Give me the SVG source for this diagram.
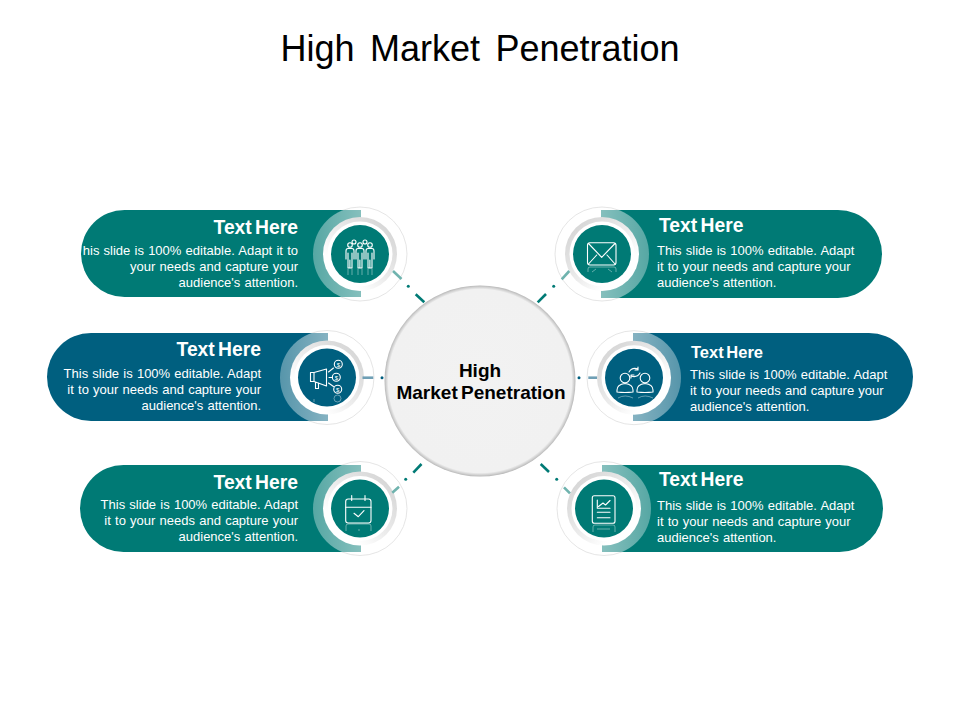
<svg xmlns="http://www.w3.org/2000/svg" width="960" height="720" viewBox="0 0 960 720">
<style>
text{font-family:"Liberation Sans",Arial,sans-serif}
.title{font-size:36px;fill:#000;text-anchor:middle;word-spacing:5.500px}
.ctr{font-size:19px;font-weight:700;fill:#000;text-anchor:middle;word-spacing:-2px}
.hd{font-size:19.300px;font-weight:700;fill:#fff;word-spacing:-2px}
.bd{font-size:13px;fill:#fff;word-spacing:.6px}
.e{text-anchor:end}
.teal{fill:#007a75}
.blue{fill:#005f7f}
.halo{fill:#fff;stroke:#dedede;stroke-width:.8}
.band-l{fill:url(#bl)}
.band-r{fill:url(#br)}
.wh{fill:#fff}
.ic{fill:none;stroke:#fff;stroke-width:1.100;stroke-linecap:round;stroke-linejoin:round}
.rf{fill:none;stroke:#fff;stroke-width:1;opacity:.4}
.d{stroke-width:2.600;stroke-linecap:butt;fill:none}
.p{stroke-width:3;stroke-linecap:round;fill:none}
.dt{stroke:#007a75}.lt{stroke:#6fb3ae}
.db{stroke:#005f7f}.lb{stroke:#6f9fb5}
</style>
<defs>
<radialGradient id="cg" cx=".5" cy=".5" r=".5">
<stop offset="0" stop-color="#f2f2f2"/><stop offset=".96" stop-color="#f1f1f1"/><stop offset=".985" stop-color="#cfcfcf"/><stop offset="1" stop-color="#b8b8b8"/>
</radialGradient>
<linearGradient id="gl" x1="1" y1="0" x2="0" y2="1"><stop offset="0" stop-color="#cfcfcf"/><stop offset=".5" stop-color="#ececec"/><stop offset=".75" stop-color="#fff"/></linearGradient>
<linearGradient id="gr" x1="0" y1="0" x2="1" y2="1"><stop offset="0" stop-color="#cfcfcf"/><stop offset=".5" stop-color="#ececec"/><stop offset=".75" stop-color="#fff"/></linearGradient>
<linearGradient id="bl" x1="0" y1="0" x2="1" y2="0"><stop offset="0" stop-color="#fff" stop-opacity=".34"/><stop offset=".5" stop-color="#fff" stop-opacity=".52"/></linearGradient>
<linearGradient id="br" x1="1" y1="0" x2="0" y2="0"><stop offset="0" stop-color="#fff" stop-opacity=".34"/><stop offset=".5" stop-color="#fff" stop-opacity=".52"/></linearGradient>
<clipPath id="c1"><rect x="300" y="210" width="61" height="87"/></clipPath>
<clipPath id="c2"><rect x="270" y="333" width="58" height="88"/></clipPath>
<clipPath id="c3"><rect x="300" y="465" width="61" height="87"/></clipPath>
<clipPath id="c4"><rect x="601" y="210" width="60" height="88"/></clipPath>
<clipPath id="c5"><rect x="633" y="333" width="60" height="88"/></clipPath>
<clipPath id="c6"><rect x="602" y="465" width="60" height="87"/></clipPath>
</defs>
<text class="title" x="480" y="61">High Market Penetration</text>

<g id="center">
<circle cx="480" cy="381" r="95.500" fill="url(#cg)"/>
<text class="ctr" x="480" y="377">High</text>
<text class="ctr" x="481" y="399">Market Penetration</text>
</g>

<g id="node-top-left">
<circle class="halo" cx="360" cy="254" r="47"/>
<path class="teal" d="M361 210H124.500a43.500 43.500 0 0 0 0 87H361Z"/>
<circle class="band-l" cx="360" cy="254" r="47" clip-path="url(#c1)"/>
<circle cx="360" cy="254" r="37" fill="url(#gl)"/><circle class="wh" cx="360" cy="254" r="32.500"/><circle class="teal" cx="360" cy="254" r="29"/>
<g class="ic">
<circle cx="354" cy="242" r="2"/><circle cx="365" cy="242" r="2"/>
<circle cx="350" cy="245" r="2.300"/><circle cx="360" cy="245" r="2.300"/><circle cx="370" cy="245" r="2.300"/>
<path d="M346 259v-8q0-2.500 2-2.500h4q2 0 2 2.500v8M348 253v15h4v-15M349.900 268v-8"/>
<path d="M356 259v-8q0-2.500 2-2.500h4q2 0 2 2.500v8M358 253v15h4v-15M359.900 268v-8"/>
<path d="M366 259v-8q0-2.500 2-2.500h4q2 0 2 2.500v8M368 253v15h4v-15M369.900 268v-8"/>
</g>
<path class="rf" d="M348 269v6M352 269v6M358 269v6M362 269v6M368 269v6M372 269v6"/>
<text class="hd e" x="298" y="234">Text Here</text>
<text class="bd e" x="298" y="255">his slide is 100% editable. Adapt it to</text>
<text class="bd e" x="298" y="271">your needs and capture your</text>
<text class="bd e" x="298" y="287">audience's attention.</text>
</g>

<g id="node-middle-left">
<circle class="halo" cx="327" cy="377.500" r="47"/>
<path class="blue" d="M328 333H91a44 44 0 0 0 0 88H328Z"/>
<circle class="band-l" cx="327" cy="377.500" r="47" clip-path="url(#c2)"/>
<circle cx="327" cy="377.500" r="37" fill="url(#gl)"/><circle class="wh" cx="327" cy="377.500" r="32.500"/><circle class="blue" cx="327" cy="377.500" r="29"/>
<g class="ic">
<path d="M314 372.500h-3.500v9h3.500zM314 372.500L326.500 369v17L314 381.500M315.500 382v6.500h3V383"/>
<path d="M328.500 372l5-4M329 377.500h3.500M328.500 383l5 3.500"/>
<circle cx="338.300" cy="364.300" r="4"/><circle cx="336.300" cy="377.300" r="4"/><circle cx="337.700" cy="389.300" r="4"/>
</g>
<text x="338.300" y="366.500" text-anchor="middle" style="font-size:6px;fill:#fff">$</text>
<text x="336.300" y="379.500" text-anchor="middle" style="font-size:6px;fill:#fff">$</text>
<text x="337.700" y="391.500" text-anchor="middle" style="font-size:6px;fill:#fff">$</text>
<circle class="rf" cx="337.500" cy="398.500" r="3.500"/><path class="rf" d="M314 399v3"/>
<text class="hd e" x="261" y="356">Text Here</text>
<text class="bd e" x="261" y="378">This slide is 100% editable. Adapt</text>
<text class="bd e" x="261" y="394">it to your needs and capture your</text>
<text class="bd e" x="261" y="410">audience's attention.</text>
</g>

<g id="node-bottom-left">
<circle class="halo" cx="360" cy="508.500" r="47"/>
<path class="teal" d="M361 465H123.500a43.500 43.500 0 0 0 0 87H361Z"/>
<circle class="band-l" cx="360" cy="508.500" r="47" clip-path="url(#c3)"/>
<circle cx="360" cy="508.500" r="37" fill="url(#gl)"/><circle class="wh" cx="360" cy="508.500" r="32.500"/><circle class="teal" cx="360" cy="508.500" r="29"/>
<g class="ic">
<rect x="345.700" y="499" width="25.300" height="24" rx="2.500"/>
<path d="M345.700 507.300H371M351.700 495.500v5M365 495.500v5M354 513.300l4.300 3.400 5.700-6"/>
</g>
<path class="rf" d="M346 531v-5q0-2 2-2h21q2 0 2 2v5M358 530h2"/>
<text class="hd e" x="298" y="489">Text Here</text>
<text class="bd e" x="298" y="509">This slide is 100% editable. Adapt</text>
<text class="bd e" x="298" y="525">it to your needs and capture your</text>
<text class="bd e" x="298" y="541">audience's attention.</text>
</g>

<g id="node-top-right">
<circle class="halo" cx="602" cy="254" r="47"/>
<path class="teal" d="M601 210H838a44 44 0 0 1 0 88H601Z"/>
<circle class="band-r" cx="602" cy="254" r="47" clip-path="url(#c4)"/>
<circle cx="602" cy="254" r="37" fill="url(#gr)"/><circle class="wh" cx="602" cy="254" r="32.500"/><circle class="teal" cx="602" cy="254" r="29"/>
<g class="ic">
<rect x="587.500" y="242.700" width="28.500" height="22.300" rx="2.500"/>
<path d="M588.500 243.500L601.700 257.300L615 243.500M588.500 264L596.700 255M615 264L607 255"/>
</g>
<path class="rf" d="M588 272v-3q0-2 2-2h24q2 0 2 2v3M592 272l4-3M612 272l-4-3"/>
<text class="hd" x="659" y="232">Text Here</text>
<text class="bd" x="657" y="255">This slide is 100% editable. Adapt</text>
<text class="bd" x="657" y="271">it to your needs and capture your</text>
<text class="bd" x="657" y="287">audience's attention.</text>
</g>

<g id="node-middle-right">
<circle class="halo" cx="634" cy="377.700" r="47"/>
<path class="blue" d="M633 333H869a44 44 0 0 1 0 88H633Z"/>
<circle class="band-r" cx="634" cy="377.700" r="47" clip-path="url(#c5)"/>
<circle cx="634" cy="377.700" r="37" fill="url(#gr)"/><circle class="wh" cx="634" cy="377.700" r="32.500"/><circle class="blue" cx="634" cy="377.700" r="29"/>
<g class="ic">
<circle cx="625" cy="378" r="4.800"/><circle cx="645" cy="378" r="4.800"/>
<path d="M617 392v-2q0-5.500 8-6.500q8 1 8 6.500v2q-8 1-16 0ZM637 392v-2q0-5.500 8-6.500q8 1 8 6.500v2q-8 1-16 0Z"/>
<path d="M629 372q3-5 9-3M638 367v3h-3M640 373q-3 5-9 3M631 378v-3h3"/>
</g>
<path class="rf" d="M618 398q7-4 15 0M638 398q7-4 15 0"/>
<text class="hd" x="691" y="358" style="font-size:16.500px">Text Here</text>
<text class="bd" x="690" y="379">This slide is 100% editable. Adapt</text>
<text class="bd" x="690" y="395">it to your needs and capture your</text>
<text class="bd" x="690" y="411">audience's attention.</text>
</g>

<g id="node-bottom-right">
<circle class="halo" cx="604" cy="508.500" r="47"/>
<path class="teal" d="M602 465H839.500a43.500 43.500 0 0 1 0 87H602Z"/>
<circle class="band-r" cx="604" cy="508.500" r="47" clip-path="url(#c6)"/>
<circle cx="604" cy="508.500" r="37" fill="url(#gr)"/><circle class="wh" cx="604" cy="508.500" r="32.500"/><circle class="teal" cx="604" cy="508.500" r="29"/>
<g class="ic">
<rect x="592.300" y="495.700" width="22.700" height="27.600" rx="2"/>
<path d="M597.300 500v8.300H610M598.500 506.500l4.500-3.500 2.500 2 4.500-4.500M597.300 512.300H610M597.300 517.700H610"/>
</g>
<path class="rf" d="M593 532v-5q0-2 2-2h18q2 0 2 2v5M597 529h13"/>
<text class="hd" x="659" y="486">Text Here</text>
<text class="bd" x="657" y="510">This slide is 100% editable. Adapt</text>
<text class="bd" x="657" y="526">it to your needs and capture your</text>
<text class="bd" x="657" y="542">audience's attention.</text>
</g>

<g id="connectors">
<path class="d lt" d="M393 271L401.500 279"/><path class="p dt" d="M408.300 286.300h.01"/><path class="d dt" d="M415.700 294.300L424.300 302.300"/>
<path class="d lb" d="M362.500 377.700H373.300"/><path class="p db" d="M382 377.700h.01"/>
<path class="d lt" d="M392.300 492.700L399 486.700"/><path class="p dt" d="M405.700 479.300h.01"/><path class="d dt" d="M413.300 472.700L421.500 464"/>
<path class="d lt" d="M569.300 271L561.700 279.300"/><path class="p dt" d="M553.700 286.300h.01"/><path class="d dt" d="M546 294L537.700 302.300"/>
<path class="d lb" d="M588.300 377.700H597"/><path class="p db" d="M579 377.700h.01"/>
<path class="d lt" d="M564 487.300L570 493.300"/><path class="p dt" d="M556.700 479.300h.01"/><path class="d dt" d="M540.700 464L549 472"/>
</g>
</svg>
